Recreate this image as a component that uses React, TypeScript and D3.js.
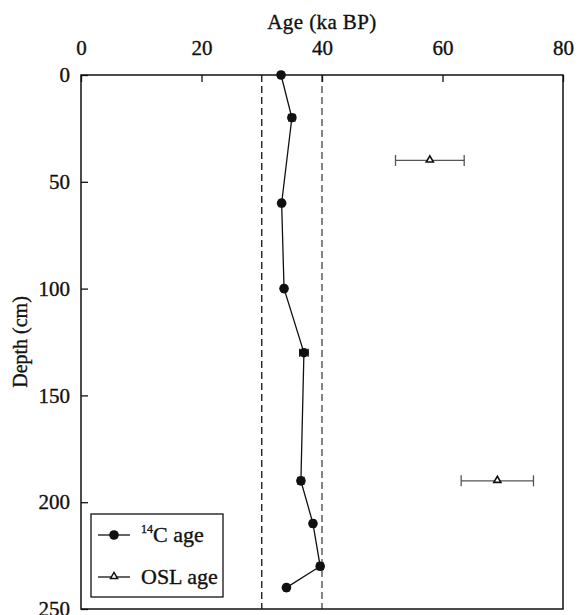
import React, { useEffect, useRef } from 'react';
import * as d3 from 'd3';

// 14C ages (ka BP) vs depth (cm)
const c14Depth = [0, 20, 60, 100, 130, 190, 210, 230, 240];
const c14Age = [33.2, 35.0, 33.3, 33.7, 37.0, 36.5, 38.5, 39.7, 34.1];
const c14Err = [0.4, 0.5, 0.4, 0.4, 0.7, 0.5, 0.4, 0.5, 0.4];

// OSL ages
const oslDepth = [40, 190];
const oslAge = [57.9, 69.1];
const oslErr = [5.7, 6.0];

const ageTicks = [0, 20, 40, 60, 80];
const depthTicks = [0, 50, 100, 150, 200, 250];
const refLines = [30, 40];

const FONT = "'Liberation Serif', 'Times New Roman', Times, serif";

export default function App() {
  const svgRef = useRef<SVGSVGElement>(null);

  useEffect(() => {
    const width = 578;
    const height = 615;
    const margin = { top: 75, right: 15, bottom: 6, left: 81 };

    const svg = d3
      .select(svgRef.current)
      .attr('width', width)
      .attr('height', height)
      .style('font-family', FONT)
      .html(null);

    const x = d3.scaleLinear().domain([0, 80]).range([margin.left, width - margin.right]);
    const y = d3.scaleLinear().domain([0, 250]).range([margin.top, height - margin.bottom]);

    // text looks a little heavier in the original scan
    const ink = (sel: any) => sel.attr('fill', '#111').attr('stroke', '#111').attr('stroke-width', 0.35);

    // reference lines
    svg
      .selectAll('.ref')
      .data(refLines)
      .join('line')
      .attr('x1', (d) => x(d))
      .attr('x2', (d) => x(d))
      .attr('y1', y(0))
      .attr('y2', y(250))
      .attr('stroke', (d, i) => (i === 0 ? '#111' : '#444'))
      .attr('stroke-width', 1.3)
      .attr('stroke-dasharray', '7,4');

    // top axis
    const top = svg
      .append('g')
      .attr('transform', `translate(0,${y(0)})`)
      .call(d3.axisTop(x).tickValues(ageTicks).tickSize(-7).tickPadding(20));
    top.select('.domain').remove();
    top.selectAll('line').attr('stroke', '#111').attr('stroke-width', 1.3);
    top.attr('font-family', null);
    top.selectAll('text').style('font-family', FONT).style('font-size', '21px').call(ink);

    // left axis
    const left = svg
      .append('g')
      .attr('transform', `translate(${x(0)},0)`)
      .call(d3.axisLeft(y).tickValues(depthTicks).tickSize(-7).tickPadding(11));
    left.select('.domain').remove();
    left.selectAll('line').attr('stroke', '#111').attr('stroke-width', 1.3);
    left.attr('font-family', null);
    left.selectAll('text').style('font-family', FONT).style('font-size', '21px').call(ink);

    // frame
    svg
      .append('rect')
      .attr('x', x(0))
      .attr('y', y(0))
      .attr('width', x(80) - x(0))
      .attr('height', y(250) - y(0))
      .attr('fill', 'none')
      .attr('stroke', '#111')
      .attr('stroke-width', 1.5);

    // axis titles
    svg
      .append('text')
      .attr('x', x(40))
      .attr('y', 29)
      .attr('text-anchor', 'middle')
      .style('font-family', FONT)
      .style('font-size', '21px')
      .style('letter-spacing', '0.4px')
      .call(ink)
      .text('Age (ka BP)');

    svg
      .append('text')
      .attr('transform', `translate(27,${(y(0) + y(250)) / 2}) rotate(-90)`)
      .attr('text-anchor', 'middle')
      .style('font-family', FONT)
      .style('font-size', '20px')
      .call(ink)
      .text('Depth (cm)');

    // 14C series
    const c14 = c14Depth.map((d, i) => ({ depth: d, age: c14Age[i], err: c14Err[i] }));
    const line = d3
      .line<{ depth: number; age: number }>()
      .x((d) => x(d.age))
      .y((d) => y(d.depth));
    svg.append('path').datum(c14).attr('d', line).attr('fill', 'none').attr('stroke', '#111').attr('stroke-width', 1.3);

    const errG = svg.append('g').attr('stroke', '#111').attr('stroke-width', 1.3);
    c14.forEach((d) => {
      errG.append('line').attr('x1', x(d.age - d.err)).attr('x2', x(d.age + d.err)).attr('y1', y(d.depth)).attr('y2', y(d.depth));
      [d.age - d.err, d.age + d.err].forEach((v) => {
        errG.append('line').attr('x1', x(v)).attr('x2', x(v)).attr('y1', y(d.depth) - 4).attr('y2', y(d.depth) + 4);
      });
    });

    svg
      .selectAll('.c14')
      .data(c14)
      .join('circle')
      .attr('cx', (d) => x(d.age))
      .attr('cy', (d) => y(d.depth))
      .attr('r', 4.8)
      .attr('fill', '#111');

    // OSL series
    const osl = oslDepth.map((d, i) => ({ depth: d, age: oslAge[i], err: oslErr[i] }));
    const oslG = svg.append('g').attr('stroke', '#555').attr('stroke-width', 1.3);
    osl.forEach((d) => {
      oslG.append('line').attr('x1', x(d.age - d.err)).attr('x2', x(d.age + d.err)).attr('y1', y(d.depth)).attr('y2', y(d.depth));
      [d.age - d.err, d.age + d.err].forEach((v) => {
        oslG.append('line').attr('x1', x(v)).attr('x2', x(v)).attr('y1', y(d.depth) - 5.5).attr('y2', y(d.depth) + 5.5);
      });
    });
    const tri = d3.symbol().type(d3.symbolTriangle).size(22);
    svg
      .selectAll('.osl')
      .data(osl)
      .join('path')
      .attr('d', tri)
      .attr('transform', (d) => `translate(${x(d.age)},${y(d.depth) - 0.5})`)
      .attr('fill', '#fff')
      .attr('stroke', '#111')
      .attr('stroke-width', 1.6);

    // legend
    const lg = svg.append('g');
    lg.append('rect')
      .attr('x', 91)
      .attr('y', 514)
      .attr('width', 132)
      .attr('height', 83)
      .attr('fill', '#fff')
      .attr('stroke', '#111')
      .attr('stroke-width', 1.3);
    const rows = [535, 577];
    rows.forEach((ry) => {
      lg.append('line').attr('x1', 98).attr('x2', 130).attr('y1', ry).attr('y2', ry).attr('stroke', '#111').attr('stroke-width', 1.3);
    });
    lg.append('circle').attr('cx', 114).attr('cy', rows[0]).attr('r', 4.8).attr('fill', '#111');
    lg.append('path')
      .attr('d', tri)
      .attr('transform', `translate(114,${rows[1] - 0.5})`)
      .attr('fill', '#fff')
      .attr('stroke', '#111')
      .attr('stroke-width', 1.4);

    const t1 = lg
      .append('text')
      .attr('x', 141)
      .attr('y', rows[0] + 7)
      .style('font-family', FONT)
      .style('font-size', '22px')
      .call(ink);
    t1.append('tspan').style('font-size', '12px').attr('dy', -9).text('14');
    t1.append('tspan').attr('dy', 9).text('C age');

    lg.append('text')
      .attr('x', 141)
      .attr('y', rows[1] + 7)
      .style('font-family', FONT)
      .style('font-size', '22px')
      .call(ink)
      .text('OSL age');
  }, []);

  return (
    <div style={{ position: 'absolute', left: 0, top: 0, background: '#fff' }}>
      <svg ref={svgRef} style={{ display: 'block' }} />
    </div>
  );
}
